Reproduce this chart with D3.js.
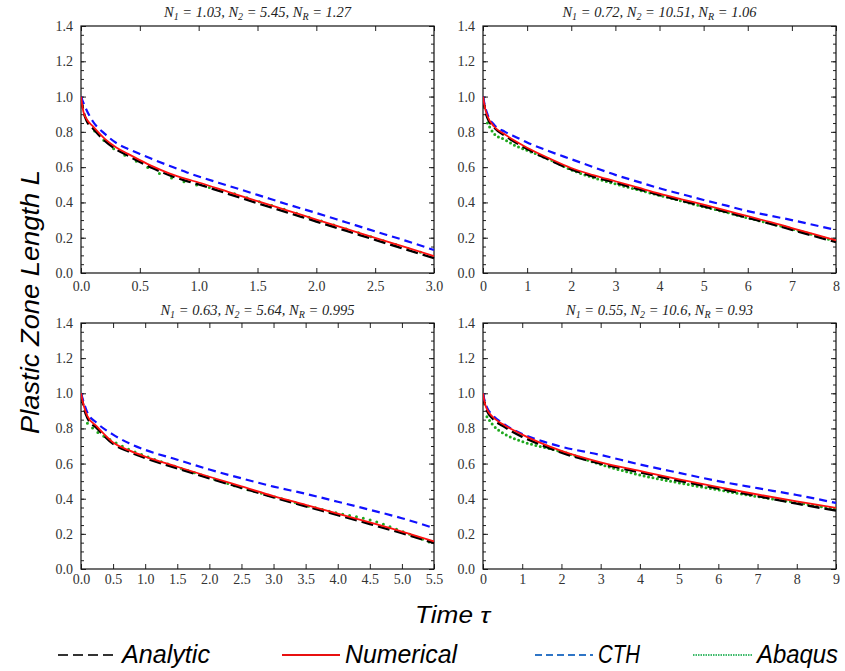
<!DOCTYPE html>
<html><head><meta charset="utf-8">
<script src="https://cdn.jsdelivr.net/npm/d3@7"></script>
<style>body{margin:0;background:#fff}svg{display:block}</style>
</head><body>
<svg id="c" width="845" height="671"></svg>
<script>
// ---------- DATA ----------
const seriesNames = ["Analytic", "Numerical", "CTH", "Abaqus"];
const titlesN1 = ["1.03", "0.72", "0.63", "0.55"];
const titlesN2 = ["5.45", "10.51", "5.64", "10.6"];
const titlesNR = ["1.27", "1.06", "0.995", "0.93"];
const xMax = [3.0, 8, 5.5, 9];
const xStep = [0.5, 1, 0.5, 1];
const yTicks = [0, 0.2, 0.4, 0.6, 0.8, 1.0, 1.2, 1.4];

// Panel 1
const p1_t        = [0, 0.02, 0.05, 0.1, 0.2, 0.3, 0.4, 0.5, 0.6, 0.75, 0.9, 1.0, 1.25, 1.5, 1.75, 2.0, 2.25, 2.5, 2.75, 3.0];
const p1_analytic = [1.0, 0.92, 0.86, 0.82, 0.75, 0.70, 0.665, 0.63, 0.597, 0.555, 0.521, 0.502, 0.449, 0.396, 0.344, 0.292, 0.24, 0.188, 0.136, 0.084];
const p1_numeric  = [1.0, 0.915, 0.87, 0.832, 0.762, 0.712, 0.675, 0.64, 0.607, 0.565, 0.532, 0.513, 0.46, 0.407, 0.355, 0.303, 0.251, 0.199, 0.148, 0.096];
const p1_cth      = [1.0, 0.965, 0.92, 0.86, 0.79, 0.737, 0.703, 0.675, 0.647, 0.608, 0.57, 0.547, 0.495, 0.443, 0.39, 0.34, 0.288, 0.236, 0.185, 0.13];
const p1_abaqus_t = [0.116, 0.232, 0.464, 0.696, 0.928, 1.16, 1.276, 1.392, 1.508, 1.624, 1.74, 1.856, 1.972, 2.088, 2.204, 2.32, 2.436, 2.552, 2.668, 2.784, 2.90];
const p1_abaqus   = [0.805, 0.728, 0.635, 0.556, 0.508, 0.475, 0.455, 0.431, 0.406, 0.382, 0.358, 0.333, 0.309, 0.285, 0.26, 0.236, 0.211, 0.187, 0.163, 0.138, 0.114];

// Panel 2
const p2_t        = [0, 0.05, 0.1, 0.25, 0.5, 0.75, 1, 1.5, 2, 2.5, 3, 3.5, 4, 4.5, 5, 5.5, 6, 6.5, 7, 7.5, 8];
const p2_analytic = [1.0, 0.92, 0.88, 0.825, 0.778, 0.738, 0.703, 0.642, 0.587, 0.547, 0.512, 0.477, 0.442, 0.41, 0.378, 0.346, 0.313, 0.28, 0.245, 0.21, 0.175];
const p2_numeric  = [1.0, 0.93, 0.89, 0.83, 0.785, 0.745, 0.71, 0.65, 0.595, 0.555, 0.52, 0.485, 0.45, 0.418, 0.387, 0.355, 0.322, 0.29, 0.255, 0.22, 0.185];
const p2_cth      = [1.0, 0.94, 0.9, 0.84, 0.8, 0.77, 0.74, 0.69, 0.645, 0.6, 0.556, 0.518, 0.48, 0.447, 0.414, 0.383, 0.351, 0.325, 0.30, 0.272, 0.244];
const p2_abaqus_t = [0.1, 0.25, 0.5, 0.75, 1, 1.5, 2, 2.5, 3, 3.5, 4, 4.5, 5, 5.5, 6, 6.5, 7, 7.5, 8];
const p2_abaqus   = [0.85, 0.79, 0.755, 0.72, 0.695, 0.644, 0.585, 0.54, 0.505, 0.472, 0.44, 0.408, 0.375, 0.345, 0.312, 0.282, 0.25, 0.215, 0.18];

// Panel 3
const p3_t        = [0, 0.05, 0.1, 0.25, 0.5, 0.75, 1, 1.5, 2, 2.5, 3, 3.5, 4, 4.5, 5, 5.5];
const p3_analytic = [1.0, 0.91, 0.86, 0.80, 0.712, 0.667, 0.632, 0.573, 0.516, 0.462, 0.408, 0.357, 0.307, 0.256, 0.204, 0.148];
const p3_numeric  = [1.0, 0.92, 0.87, 0.81, 0.72, 0.675, 0.64, 0.582, 0.525, 0.47, 0.415, 0.365, 0.315, 0.265, 0.213, 0.157];
const p3_cth      = [1.0, 0.94, 0.89, 0.83, 0.765, 0.715, 0.678, 0.622, 0.566, 0.516, 0.469, 0.428, 0.383, 0.337, 0.289, 0.233];
const p3_abaqus_t = [0.1, 0.25, 0.5, 0.75, 1, 1.5, 2, 2.5, 3, 3.5, 4, 4.5, 5, 5.5];
const p3_abaqus   = [0.83, 0.78, 0.727, 0.68, 0.643, 0.58, 0.52, 0.462, 0.412, 0.362, 0.318, 0.28, 0.215, 0.143];

// Panel 4
const p4_t        = [0, 0.05, 0.1, 0.25, 0.5, 1, 1.5, 2, 3, 4, 5, 6, 7, 8, 9];
const p4_analytic = [1.0, 0.93, 0.9, 0.855, 0.815, 0.752, 0.705, 0.662, 0.6, 0.55, 0.502, 0.458, 0.415, 0.372, 0.332];
const p4_numeric  = [1.0, 0.94, 0.91, 0.865, 0.825, 0.765, 0.715, 0.672, 0.607, 0.558, 0.51, 0.466, 0.424, 0.385, 0.348];
const p4_cth      = [1.0, 0.95, 0.92, 0.875, 0.83, 0.768, 0.728, 0.696, 0.649, 0.595, 0.547, 0.5, 0.46, 0.421, 0.376];
const p4_abaqus_t = [0.1, 0.25, 0.5, 1, 1.5, 2, 3, 4, 5, 6, 7, 8, 9];
const p4_abaqus   = [0.867, 0.82, 0.775, 0.725, 0.695, 0.668, 0.595, 0.535, 0.49, 0.45, 0.412, 0.378, 0.34];

// ---------- LAYOUT ----------
const panels = [
  {x0: 81, x1: 434, y0: 26, y1: 273, pad: 8, tb: 17,
   t: p1_t, a: p1_analytic, n: p1_numeric, c: p1_cth, gt: p1_abaqus_t, g: p1_abaqus, gdash: "0,13", fmt: ".1f"},
  {x0: 483, x1: 836, y0: 26, y1: 273, pad: 8, tb: 17,
   t: p2_t, a: p2_analytic, n: p2_numeric, c: p2_cth, gt: p2_abaqus_t, g: p2_abaqus, gdash: "0,4.5", fmt: "d"},
  {x0: 81, x1: 434, y0: 323, y1: 569, pad: 5, tb: 315,
   t: p3_t, a: p3_analytic, n: p3_numeric, c: p3_cth, gt: p3_abaqus_t, g: p3_abaqus, gdash: "0,7", fmt: ".1f"},
  {x0: 483, x1: 836, y0: 323, y1: 569, pad: 5, tb: 315,
   t: p4_t, a: p4_analytic, n: p4_numeric, c: p4_cth, gt: p4_abaqus_t, g: p4_abaqus, gdash: "0,4.5", fmt: "d"}
];

const svg = d3.select("#c");
const serif = "'Liberation Serif','Times New Roman',serif";
const sans = "'Liberation Sans',Arial,sans-serif";

panels.forEach((p, i) => {
  const x = d3.scaleLinear().domain([0, xMax[i]]).range([p.x0, p.x1]);
  const y = d3.scaleLinear().domain([0, 1.4]).range([p.y1, p.y0]);
  const xt = d3.range(0, xMax[i] + 1e-9, xStep[i]);
  const yMinor = d3.range(0, 1.4001, 0.05);
  const g = svg.append("g");

  const styleAxis = sel => {
    sel.select(".domain").remove();
    sel.selectAll("line").attr("stroke", "#222").attr("stroke-width", 1);
    sel.selectAll("text").attr("font-family", serif).attr("font-size", 14).attr("fill", "#333");
  };
  g.append("g").attr("transform", `translate(0,${p.y1})`)
    .call(d3.axisBottom(x).tickValues(xt).tickFormat(d3.format(p.fmt)).tickSizeInner(-5).tickSizeOuter(0).tickPadding(p.pad))
    .call(styleAxis);
  g.append("g").attr("transform", `translate(0,${p.y0})`)
    .call(d3.axisTop(x).tickValues(xt).tickFormat("").tickSizeInner(-5).tickSizeOuter(0))
    .call(styleAxis);
  g.append("g").attr("transform", `translate(${p.x0},0)`)
    .call(d3.axisLeft(y).tickValues(yTicks).tickFormat(d3.format(".1f")).tickSizeInner(-5).tickSizeOuter(0).tickPadding(8))
    .call(styleAxis);
  g.append("g").attr("transform", `translate(${p.x0},0)`)
    .call(d3.axisLeft(y).tickValues(yMinor).tickFormat("").tickSizeInner(-3).tickSizeOuter(0))
    .call(styleAxis);
  g.append("g").attr("transform", `translate(${p.x1},0)`)
    .call(d3.axisRight(y).tickValues(yTicks).tickFormat("").tickSizeInner(-5).tickSizeOuter(0))
    .call(styleAxis);
  g.append("g").attr("transform", `translate(${p.x1},0)`)
    .call(d3.axisRight(y).tickValues(yMinor).tickFormat("").tickSizeInner(-3).tickSizeOuter(0))
    .call(styleAxis);

  g.append("rect").attr("x", p.x0).attr("y", p.y0).attr("width", p.x1 - p.x0).attr("height", p.y1 - p.y0)
    .attr("fill", "none").attr("stroke", "#111").attr("stroke-width", 1.2);

  const clipId = "clip" + i;
  g.append("clipPath").attr("id", clipId).append("rect")
    .attr("x", p.x0).attr("y", p.y0 - 2).attr("width", p.x1 - p.x0 + 1).attr("height", p.y1 - p.y0 + 2);
  const lines = g.append("g").attr("clip-path", `url(#${clipId})`);

  const line = d3.line().x(d => x(d[0])).y(d => y(d[1])).curve(d3.curveMonotoneX);
  const zip = (ts, vs) => ts.map((t, k) => [t, vs[k]]);

  lines.append("path").attr("d", line(zip(p.gt, p.g))).attr("fill", "none")
    .attr("stroke", "#1fa81f").attr("stroke-width", 3).attr("stroke-linecap", "round")
    .attr("stroke-dasharray", p.gdash);
  lines.append("path").attr("d", line(zip(p.t, p.a))).attr("fill", "none")
    .attr("stroke", "#000").attr("stroke-width", 2.4).attr("stroke-dasharray", "12,5");
  lines.append("path").attr("d", line(zip(p.t, p.c))).attr("fill", "none")
    .attr("stroke", "#1010ff").attr("stroke-width", 2.2).attr("stroke-dasharray", "8,5");
  lines.append("path").attr("d", line(zip(p.t, p.n))).attr("fill", "none")
    .attr("stroke", "#ff1010").attr("stroke-width", 1.8);

  const title = svg.append("text").attr("x", (p.x0 + p.x1) / 2).attr("y", p.tb)
    .attr("text-anchor", "middle").attr("font-family", serif).attr("font-style", "italic")
    .attr("font-size", 14.5).attr("fill", "#222");
  const part = (s, sub, rest) => {
    title.append("tspan").text(s);
    title.append("tspan").attr("font-size", 10).attr("dy", 3).text(sub);
    title.append("tspan").attr("dy", -3).text(rest);
  };
  part("N", "1", " = " + titlesN1[i] + ", ");
  part("N", "2", " = " + titlesN2[i] + ", ");
  part("N", "R", " = " + titlesNR[i]);
});

svg.append("text").attr("transform", "translate(39,302) rotate(-90)")
  .attr("text-anchor", "middle").attr("font-family", sans).attr("font-style", "italic")
  .attr("font-size", 26).attr("fill", "#000")
  .attr("textLength", 264).attr("lengthAdjust", "spacingAndGlyphs")
  .text("Plastic Zone Length L");
svg.append("text").attr("x", 415).attr("y", 623)
  .attr("font-family", sans).attr("font-style", "italic").attr("font-size", 23).attr("fill", "#000")
  .attr("textLength", 75).attr("lengthAdjust", "spacingAndGlyphs")
  .text("Time τ");

const legend = [
  {name: seriesNames[0], x1: 58, x2: 117, tx: 122, tw: 88, color: "#333", dash: "10,5", w: 2},
  {name: seriesNames[1], x1: 282, x2: 340, tx: 345, tw: 112, color: "#e81010", dash: null, w: 2},
  {name: seriesNames[2], x1: 535, x2: 593, tx: 598, tw: 42, color: "#2e75c6", dash: "7,4", w: 2},
  {name: seriesNames[3], x1: 693, x2: 753, tx: 757, tw: 81, color: "#3dbb6a", dash: "1.5,1", w: 2.2}
];
legend.forEach(l => {
  svg.append("line").attr("x1", l.x1).attr("x2", l.x2).attr("y1", 655).attr("y2", 655)
    .attr("stroke", l.color).attr("stroke-width", l.w).attr("stroke-dasharray", l.dash);
  svg.append("text").attr("x", l.tx).attr("y", 663)
    .attr("font-family", sans).attr("font-style", "italic").attr("font-size", 25).attr("fill", "#000")
    .attr("textLength", l.tw).attr("lengthAdjust", "spacingAndGlyphs").text(l.name);
});
</script>
</body></html>
